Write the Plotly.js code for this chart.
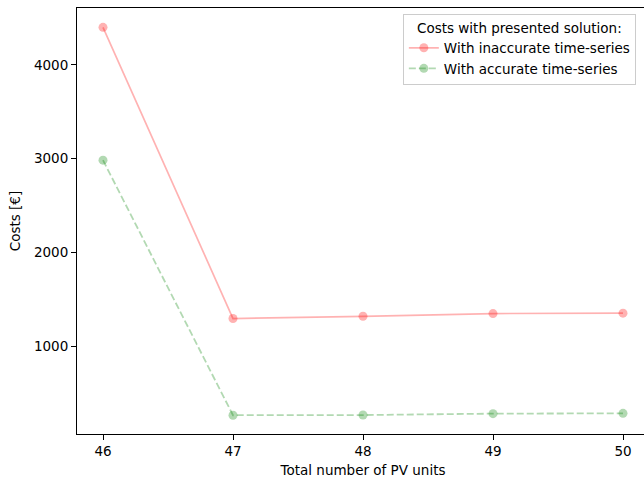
<!DOCTYPE html>
<html>
<head>
<meta charset="utf-8">
<script src="https://cdn.plot.ly/plotly-3.0.1.min.js"></script>
<style>
html,body{margin:0;padding:0;overflow:hidden;background:#fff;}
#chart{width:650px;height:481px;}
</style>
</head>
<body>
<div id="chart"></div>
<script>
var pvUnits = [46, 47, 48, 49, 50];
var costsInaccurate = [4400, 1298, 1322, 1351, 1355];
var costsAccurate = [2985, 268, 270, 285, 288];
var xTicks = [46, 47, 48, 49, 50];
var yTicks = [1000, 2000, 3000, 4000];

var font = {family: 'DejaVu Sans, sans-serif', size: 13.5, color: '#000'};

var traces = [
  {
    x: pvUnits, y: costsInaccurate, type: 'scatter', mode: 'lines+markers',
    name: 'With inaccurate time-series',
    line: {color: 'rgba(255,0,0,0.3)', width: 1.7},
    marker: {color: 'rgba(255,0,0,0.3)', size: 9}
  },
  {
    x: pvUnits, y: costsAccurate, type: 'scatter', mode: 'lines+markers',
    name: 'With accurate time-series',
    line: {color: 'rgba(0,128,0,0.3)', width: 1.8, dash: '7px,3px'},
    marker: {color: 'rgba(0,128,0,0.3)', size: 9}
  }
];

var layout = {
  width: 650, height: 481,
  margin: {l: 77, r: 1, t: 8, b: 47},
  paper_bgcolor: '#fff', plot_bgcolor: '#fff',
  font: font,
  showlegend: true,
  xaxis: {
    range: [45.8, 50.2],
    tickvals: xTicks, ticktext: xTicks.map(String),
    showgrid: false, zeroline: false,
    showline: true, mirror: true, linecolor: '#000', linewidth: 1,
    ticks: 'outside', ticklen: 5, tickcolor: '#000',
    title: {text: 'Total number of PV units', font: font, standoff: 7}
  },
  yaxis: {
    range: [68, 4606],
    tickvals: yTicks, ticktext: yTicks.map(String),
    showgrid: false, zeroline: false,
    showline: true, mirror: true, linecolor: '#000', linewidth: 1,
    ticks: 'outside', ticklen: 5, tickcolor: '#000',
    title: {text: 'Costs [€]', font: font, standoff: 10}
  },
  legend: {
    x: 0.977, y: 0.986, xanchor: 'right', yanchor: 'top',
    bgcolor: 'rgba(255,255,255,0.8)', bordercolor: '#ccc', borderwidth: 1,
    font: font,
    tracegroupgap: 0,
    title: {text: 'Costs with presented solution:', font: font, side: 'top center'},
    itemwidth: 30
  }
};

Plotly.newPlot('chart', traces, layout, {displayModeBar: false, staticPlot: true});
</script>
</body>
</html>
